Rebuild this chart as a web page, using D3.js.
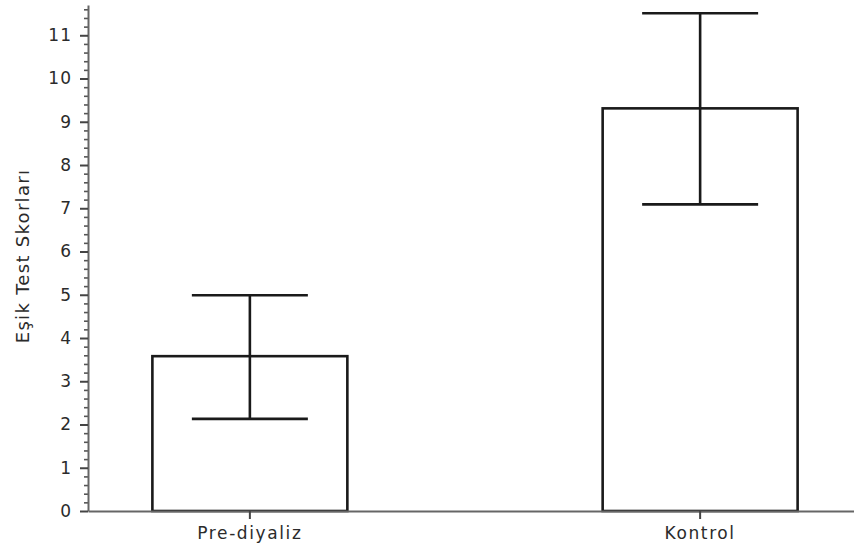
<!DOCTYPE html>
<html>
<head>
<meta charset="utf-8">
<script src="https://cdn.jsdelivr.net/npm/d3@7"></script>
<style>
  body { margin: 0; background: #fff; }
  text { font-family: "DejaVu Sans", Verdana, sans-serif; fill: #2b2b2b; }
</style>
</head>
<body>
<div id="chart-area"></div>
<script>
// values
var groups = ["Pre-diyaliz", "Kontrol"];
var means = [3.58, 9.31];
var lowerErr = [2.13, 7.09];
var upperErr = [4.99, 11.51];
var yTicks = [0, 1, 2, 3, 4, 5, 6, 7, 8, 9, 10, 11];

var width = 854, height = 551;
var plot = { left: 88, top: 5, bottom: 511 };

var svg = d3.select("#chart-area")
  .append("svg")
  .attr("width", width)
  .attr("height", height);

// Y Scale
var y = d3.scaleLinear()
  .domain([0, 11.7])
  .range([plot.bottom, plot.top]);

// X Scale
var x = d3.scaleBand()
  .domain(groups)
  .range([plot.left, 862])
  .paddingInner(0.567)
  .paddingOuter(0.143);

// minor ticks every 0.2
var minor = d3.range(0, 11.71, 0.2).filter(function(d) {
  return Math.abs(d - Math.round(d)) > 0.01;
});
svg.append("g")
  .attr("transform", "translate(" + plot.left + ",0)")
  .call(d3.axisLeft(y).tickValues(minor).tickSize(4).tickFormat(""))
  .call(function(g) {
    g.select(".domain").remove();
    g.selectAll("line").attr("stroke", "#555").attr("stroke-width", 1.6);
  });

// Y Axis
var yAxis = svg.append("g")
  .attr("transform", "translate(" + plot.left + ",0)")
  .call(d3.axisLeft(y).tickValues(yTicks).tickSize(8).tickSizeOuter(0).tickPadding(8));
yAxis.select(".domain").attr("stroke", "#666").attr("stroke-width", 2);
yAxis.selectAll("line").attr("stroke", "#444").attr("stroke-width", 2);
yAxis.selectAll("text")
  .style("font-size", "17px")
  .style("letter-spacing", "1px")
  .attr("fill", "#2b2b2b");

// bars
svg.append("g")
  .selectAll("rect")
  .data(groups)
  .enter()
  .append("rect")
  .attr("x", function(d) { return x(d); })
  .attr("y", function(d, i) { return y(means[i]); })
  .attr("width", x.bandwidth())
  .attr("height", function(d, i) { return y(0) - y(means[i]); })
  .attr("fill", "#fff")
  .attr("stroke", "#1a1a1a")
  .attr("stroke-width", 2.6);

// X Axis
var xAxis = svg.append("g")
  .attr("transform", "translate(0," + plot.bottom + ")")
  .call(d3.axisBottom(x).tickSize(8).tickSizeOuter(0).tickPadding(8));
xAxis.select(".domain").attr("stroke", "#666").attr("stroke-width", 2);
xAxis.selectAll("line").attr("stroke", "#444").attr("stroke-width", 2);
xAxis.selectAll("text")
  .style("font-size", "17px")
  .style("letter-spacing", "1.6px")
  .attr("fill", "#2b2b2b");

// error bars
var capHalf = 58;
var err = svg.append("g")
  .selectAll("g")
  .data(groups)
  .enter()
  .append("g")
  .attr("stroke", "#1a1a1a")
  .attr("stroke-width", 2.6);

err.append("line")
  .attr("x1", function(d) { return x(d) + x.bandwidth() / 2; })
  .attr("x2", function(d) { return x(d) + x.bandwidth() / 2; })
  .attr("y1", function(d, i) { return y(lowerErr[i]); })
  .attr("y2", function(d, i) { return y(upperErr[i]); });

err.append("line")
  .attr("x1", function(d) { return x(d) + x.bandwidth() / 2 - capHalf; })
  .attr("x2", function(d) { return x(d) + x.bandwidth() / 2 + capHalf; })
  .attr("y1", function(d, i) { return y(upperErr[i]); })
  .attr("y2", function(d, i) { return y(upperErr[i]); });

err.append("line")
  .attr("x1", function(d) { return x(d) + x.bandwidth() / 2 - capHalf; })
  .attr("x2", function(d) { return x(d) + x.bandwidth() / 2 + capHalf; })
  .attr("y1", function(d, i) { return y(lowerErr[i]); })
  .attr("y2", function(d, i) { return y(lowerErr[i]); });

// y label
svg.append("text")
  .attr("transform", "translate(29,256) rotate(-90)")
  .attr("text-anchor", "middle")
  .style("font-size", "18px")
  .style("letter-spacing", "1.3px")
  .text("Eşik Test Skorları");
</script>
</body>
</html>
